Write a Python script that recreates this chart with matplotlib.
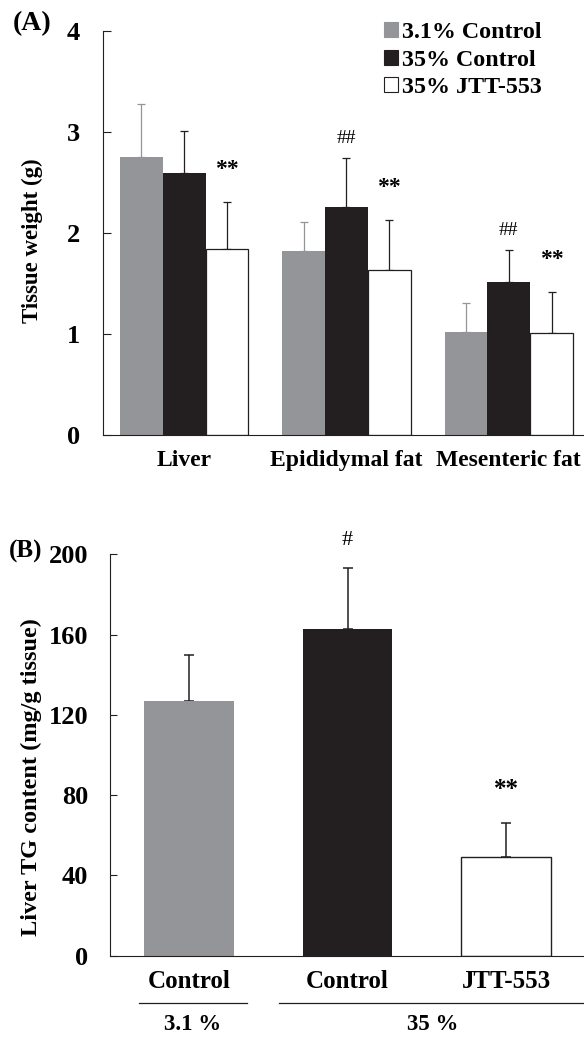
import matplotlib
matplotlib.use("Agg")
import matplotlib.pyplot as plt
from matplotlib.patches import Patch
import numpy as np

plt.rcParams['font.family'] = ['Liberation Serif', 'DejaVu Serif']
plt.rcParams['font.weight'] = 'bold'

# panel A - tissue weights (g)
tissues = ['Liver', 'Epididymal fat', 'Mesenteric fat']
series_names = ['3.1% Control', '35% Control', '35% JTT-553']
ctrl31 = [2.75, 1.82, 1.02]
ctrl31_err = [0.53, 0.29, 0.29]
ctrl35 = [2.59, 2.26, 1.52]
ctrl35_err = [0.42, 0.48, 0.31]
jtt = [1.84, 1.63, 1.01]
jtt_err = [0.47, 0.50, 0.41]
# (group, series, mark)
marks_a = [(0, 2, '**'), (1, 1, '##'), (1, 2, '**'), (2, 1, '##'), (2, 2, '**')]

# panel B - liver TG content
groups_b = ['Control', 'Control', 'JTT-553']
tg = [127, 163, 49]
tg_err = [23, 30, 17]
marks_b = [(1, '#'), (2, '**')]

GRAY = '#939598'
BLACK = '#231f20'
colors = [GRAY, BLACK, 'white']
err_colors_a = [GRAY, BLACK, BLACK]

fig = plt.figure(figsize=(5.84, 10.38), dpi=100)

# ---------- (A)
ax = fig.add_axes([0.1769, 0.5809, 0.8231, 0.3892])
x = np.arange(len(tissues))
w = 0.264
vals = [ctrl31, ctrl35, jtt]
errs = [ctrl31_err, ctrl35_err, jtt_err]
for i in range(3):
    xi = x + (i - 1) * w
    ax.bar(xi, vals[i], w, color=colors[i],
           edgecolor=BLACK if i == 2 else 'none', linewidth=0.9, zorder=2)
    ax.errorbar(xi, vals[i], yerr=[np.zeros(3), errs[i]], fmt='none',
                ecolor=err_colors_a[i], elinewidth=0.9, capsize=2.7,
                capthick=0.9, zorder=1)
for g, s, m in marks_a:
    top = vals[s][g] + errs[s][g]
    if m == '**':
        ax.text(x[g] + (s - 1) * w, top + 0.32, m, ha='center', va='center',
                fontsize=17, fontweight='bold')
    else:
        ax.text(x[g] + (s - 1) * w, top + 0.2, m, ha='center', va='center',
                fontsize=14, fontweight='normal')

ax.set_xlim(-0.498, 2.463)
ax.set_ylim(0, 4)
ax.set_yticks([0, 1, 2, 3, 4])
ax.set_xticks(x)
ax.set_xticklabels(tissues, fontsize=17, fontweight='bold')
ax.tick_params(axis='x', length=0, pad=10.5)
ax.tick_params(axis='y', direction='in', length=5.8, width=0.8, pad=17,
               labelsize=19, color=BLACK)
for lab in ax.get_yticklabels():
    lab.set_fontweight('bold')
for sp in ['top', 'right']:
    ax.spines[sp].set_visible(False)
for sp in ['left', 'bottom']:
    ax.spines[sp].set_linewidth(0.8)
    ax.spines[sp].set_color(BLACK)

handles = [Patch(facecolor=colors[i], edgecolor=BLACK if i == 2 else colors[i],
                 linewidth=0.8) for i in range(3)]
fig.legend(handles, series_names, loc='upper left',
           bbox_to_anchor=(384 / 584, 1 - 22 / 1038), frameon=False,
           prop={'family': 'Liberation Serif', 'weight': 'bold', 'size': 17.3},
           handlelength=0.6, handleheight=0.6, handletextpad=0.15,
           labelspacing=0.27, borderpad=0, borderaxespad=0)

fig.text(32 / 584, 1 - 23.5 / 1038, '(A)', ha='center', va='center',
         fontsize=20, fontweight='bold')
fig.text(32.5 / 584, 1 - 241 / 1038, 'Tissue weight (g)', rotation=90,
         ha='center', va='center', fontsize=16.5, fontweight='bold')

# ---------- (B)
bx = fig.add_axes([0.1889, 0.0793, 0.8111, 0.3867])
xb = np.arange(len(groups_b))
wb = 0.565
bx.bar(xb, tg, wb, color=colors, edgecolor=['none', 'none', BLACK],
       linewidth=1.0, zorder=2)
bx.errorbar(xb, tg, yerr=[np.zeros(3), tg_err], fmt='none', ecolor=BLACK,
            elinewidth=1.1, capsize=3.3, capthick=1.1, zorder=1)
for g, m in marks_b:
    top = tg[g] + tg_err[g]
    if m == '**':
        bx.text(xb[g], top + 17, m, ha='center', va='center', fontsize=18,
                fontweight='bold')
    else:
        bx.text(xb[g], top + 14, m, ha='center', va='center', fontsize=16,
                fontweight='normal')

bx.set_xlim(-0.498, 2.492)
bx.set_ylim(0, 200)
bx.set_yticks([0, 40, 80, 120, 160, 200])
bx.set_xticks(xb)
bx.set_xticklabels(groups_b, fontsize=18, fontweight='bold')
bx.tick_params(axis='x', length=0, pad=10.5)
bx.tick_params(axis='y', direction='in', length=5, width=0.8, pad=16,
               labelsize=19, color=BLACK)
for lab in bx.get_yticklabels():
    lab.set_fontweight('bold')
for sp in ['top', 'right']:
    bx.spines[sp].set_visible(False)
for sp in ['left', 'bottom']:
    bx.spines[sp].set_linewidth(0.8)
    bx.spines[sp].set_color(BLACK)

# diet groups under the x labels
tr = bx.get_xaxis_transform()
bx.plot([-0.315, 0.363], [-0.119, -0.119], color=BLACK, lw=0.9,
        transform=tr, clip_on=False)
bx.plot([0.567, 2.492], [-0.119, -0.119], color=BLACK, lw=0.9,
        transform=tr, clip_on=False)
bx.text(0.02, -0.1726, '3.1 %', transform=tr, ha='center', va='center',
        fontsize=16.5, fontweight='bold')
bx.text(1.54, -0.1726, '35 %', transform=tr, ha='center', va='center',
        fontsize=16.5, fontweight='bold')

fig.text(26 / 584, 1 - 551 / 1038, '(B)', ha='center', va='center',
         fontsize=18, fontweight='bold')
fig.text(31.5 / 584, 1 - 777 / 1038, 'Liver TG content (mg/g tissue)',
         rotation=90, ha='center', va='center', fontsize=17.5,
         fontweight='bold')

fig.savefig('out.png', dpi=100)
